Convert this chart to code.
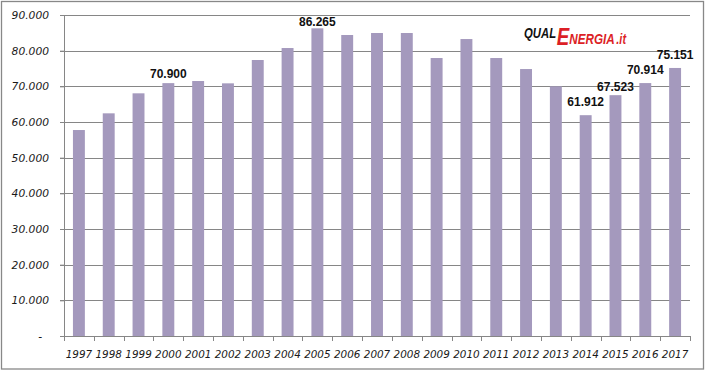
<!DOCTYPE html>
<html>
<head>
<meta charset="utf-8">
<script src="https://cdn.jsdelivr.net/npm/d3@7"></script>
<style>
    html, body { margin: 0; padding: 0; background: #fff; }
    #chart { width: 706px; height: 371px; }
</style>
</head>
<body>
<div id="chart"></div>
<script>
// Data
const years = ['1997', '1998', '1999', '2000', '2001', '2002', '2003', '2004', '2005', '2006', '2007',
    '2008', '2009', '2010', '2011', '2012', '2013', '2014', '2015', '2016', '2017'];
const values = [57750, 62430, 68040, 70900, 71490, 70840, 77380, 80740, 86265, 84390, 84950,
    84950, 77940, 83260, 77940, 74850, 70000, 61912, 67523, 70914, 75151];
const labelledYears = ['2000', '2005', '2014', '2015', '2016', '2017'];
const yTickValues = [0, 10000, 20000, 30000, 40000, 50000, 60000, 70000, 80000, 90000];

// gap between bar top and label baseline (labels were nudged by hand in the original)
const labelGap = { '2000': 5, '2005': 2.5, '2014': 9, '2015': 4, '2016': 9, '2017': 9 };

function draw() {
    const dataset = years.map((y, i) => ({ year: y, value: values[i] }));

    const xAccessor = (d) => d.year;
    const yAccessor = (d) => d.value;

    // Dimensions
    let dimensions = {
        width: 706,
        height: 371,
        margin: {
            top: 15,
            bottom: 35,
            left: 64,
            right: 16,
        },
    };

    dimensions.ctrWidth = dimensions.width - dimensions.margin.left - dimensions.margin.right;
    dimensions.ctrHeight = dimensions.height - dimensions.margin.top - dimensions.margin.bottom;

    const it = d3.formatLocale({ decimal: ',', thousands: '.', grouping: [3], currency: ['€', ''] });
    const fmt = it.format(',d');

    const gridColor = '#868686';

    // Draw Image
    const svg = d3
        .select('#chart')
        .append('svg')
        .attr('width', dimensions.width)
        .attr('height', dimensions.height)
        ;

    svg
        .append('rect')
        .attr('x', 1.5)
        .attr('y', 1.5)
        .attr('width', 702)
        .attr('height', 367.5)
        .attr('fill', '#fff')
        .attr('stroke', '#888')
        .attr('stroke-width', 1.3)
        ;

    const ctr = svg
        .append('g')
        .attr('transform', `translate(${dimensions.margin.left}, ${dimensions.margin.top})`)
        ;

    // Scales
    const xScale = d3
        .scaleBand()
        .domain(years)
        .range([0, dimensions.ctrWidth])
        .paddingInner(0.6)
        .paddingOuter(0.3)
        ;

    const yScale = d3
        .scaleLinear()
        .domain([0, 90000])
        .range([dimensions.ctrHeight, 0])
        ;

    // Gridlines
    ctr
        .append('g')
        .selectAll('line')
        .data(yTickValues)
        .join('line')
        .attr('x1', -4)
        .attr('x2', dimensions.ctrWidth)
        .attr('y1', (d) => Math.round(yScale(d)) + 0.5)
        .attr('y2', (d) => Math.round(yScale(d)) + 0.5)
        .attr('stroke', gridColor)
        .attr('stroke-width', 1)
        ;

    // Bars
    ctr
        .append('g')
        .selectAll('rect')
        .data(dataset)
        .join('rect')
        .attr('x', (d) => xScale(xAccessor(d)))
        .attr('y', (d) => yScale(yAccessor(d)))
        .attr('width', xScale.bandwidth())
        .attr('height', (d) => dimensions.ctrHeight - yScale(yAccessor(d)))
        .attr('fill', '#a499bd')
        ;

    // Axes
    const yAxis = d3
        .axisLeft(yScale)
        .tickValues(yTickValues)
        .tickSize(4)
        .tickPadding(11)
        .tickFormat((d) => (d === 0 ? '-' : fmt(d)))
        ;

    const yAxisGroup = ctr
        .append('g')
        .call(yAxis)
        ;

    yAxisGroup.select('.domain')
        .attr('stroke', gridColor)
        .attr('d', `M0.5,0V${dimensions.ctrHeight}`);
    yAxisGroup.selectAll('.tick line').attr('stroke', gridColor);
    yAxisGroup
        .selectAll('.tick text')
        .attr('fill', '#1a1a1a')
        .style('font-family', '"DejaVu Sans", Verdana, sans-serif')
        .style('font-style', 'italic')
        .style('font-size', '10.7px')
        .attr('dx', (d) => (d === 0 ? -7 : 0))
        ;

    const xAxisGroup = ctr
        .append('g')
        .attr('transform', `translate(0, ${dimensions.ctrHeight})`)
        ;

    xAxisGroup
        .append('line')
        .attr('x1', 0)
        .attr('x2', dimensions.ctrWidth)
        .attr('y1', 0.5)
        .attr('y2', 0.5)
        .attr('stroke', gridColor)
        ;

    xAxisGroup
        .selectAll('line.tick')
        .data(d3.range(years.length + 1))
        .join('line')
        .classed('tick', true)
        .attr('x1', (i) => Math.round(i * xScale.step()) + 0.5)
        .attr('x2', (i) => Math.round(i * xScale.step()) + 0.5)
        .attr('y1', 0)
        .attr('y2', 5)
        .attr('stroke', gridColor)
        ;

    xAxisGroup
        .selectAll('text')
        .data(years)
        .join('text')
        .attr('x', (d) => xScale(d) + xScale.bandwidth() / 2)
        .attr('y', 21.5)
        .attr('text-anchor', 'middle')
        .attr('fill', '#1a1a1a')
        .style('font-family', '"DejaVu Sans", Verdana, sans-serif')
        .style('font-style', 'italic')
        .style('font-size', '10.4px')
        .text((d) => d)
        ;

    // Data labels
    ctr
        .append('g')
        .selectAll('text')
        .data(dataset.filter((d) => labelledYears.includes(d.year)))
        .join('text')
        .attr('x', (d) => xScale(xAccessor(d)) + xScale.bandwidth() / 2)
        .attr('y', (d) => yScale(yAccessor(d)) - labelGap[d.year])
        .attr('text-anchor', 'middle')
        .attr('fill', '#111')
        .style('font-family', '"Liberation Sans", Arial, sans-serif')
        .style('font-weight', 'bold')
        .style('font-size', '12px')
        .text((d) => fmt(yAccessor(d)))
        ;

    // Logo (one text, condensed horizontally)
    const logo = svg
        .append('g')
        .attr('transform', 'translate(524, 0) scale(0.78, 1)')
        .append('text')
        .style('font-family', '"Liberation Sans", Arial, sans-serif')
        .style('font-weight', 'bold')
        .style('font-style', 'italic')
        ;

    logo.append('tspan')
        .attr('x', 0)
        .attr('y', 37.7)
        .attr('font-size', 14.5)
        .attr('fill', '#111')
        .text('QUAL');

    logo.append('tspan')
        .attr('y', 45)
        .attr('dx', 1)
        .attr('font-size', 24)
        .attr('fill', '#dc1f26')
        .text('E');

    logo.append('tspan')
        .attr('y', 44)
        .attr('font-size', 15)
        .attr('fill', '#dc1f26')
        .text('NERGIA');

    logo.append('tspan')
        .attr('y', 44)
        .attr('dx', 2)
        .attr('font-size', 14)
        .attr('fill', '#dc1f26')
        .text('.it');
}

draw();
</script>
</body>
</html>
